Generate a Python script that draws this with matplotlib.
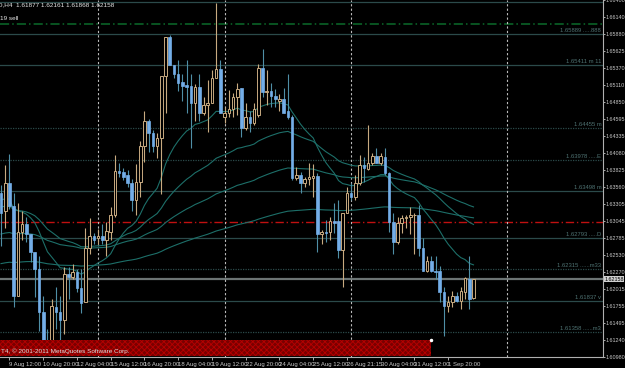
import matplotlib
matplotlib.use("Agg")
import matplotlib.pyplot as plt
import matplotlib.transforms as mtransforms
from matplotlib.patches import Rectangle

# GBPUSD H4 candles
opens = [
    1.6347, 1.6319, 1.6362, 1.6328, 1.6190, 1.6288, 1.6300, 1.6284, 1.6257, 1.6231,
    1.6166, 1.6124, 1.6111, 1.6174, 1.6166, 1.6154, 1.6224, 1.6219, 1.6227, 1.6202,
    1.6181, 1.6263, 1.6281, 1.6278, 1.6281, 1.6276, 1.6288, 1.6313, 1.6380, 1.6379,
    1.6374, 1.6362, 1.6337, 1.6364, 1.6418, 1.6457, 1.6438, 1.6418, 1.6430, 1.6525,
    1.6584, 1.6542, 1.6527, 1.6516, 1.6511, 1.6510, 1.6483, 1.6508, 1.6469, 1.6480,
    1.6483, 1.6522, 1.6536, 1.6462, 1.6468, 1.6474, 1.6492, 1.6507, 1.6445, 1.6462,
    1.6453, 1.6465, 1.6537, 1.6501, 1.6502, 1.6495, 1.6487, 1.6490, 1.6471, 1.6463,
    1.6370, 1.6374, 1.6362, 1.6368, 1.6370, 1.6373, 1.6284, 1.6288, 1.6288, 1.6305,
    1.6305, 1.6261, 1.6317, 1.6347, 1.6341, 1.6362, 1.6389, 1.6383, 1.6392, 1.6403,
    1.6392, 1.6401, 1.6377, 1.6303, 1.6273, 1.6302, 1.6309, 1.6311, 1.6313, 1.6313,
    1.6264, 1.6228, 1.6243, 1.6228, 1.6228, 1.6196, 1.6175, 1.6181, 1.6190, 1.6183,
    1.6196, 1.6216, 1.61877]
highs = [
    1.6359, 1.6389, 1.6406, 1.6347, 1.6332, 1.6319, 1.6311, 1.6284, 1.6258, 1.6251,
    1.6190, 1.6141, 1.6186, 1.6205, 1.6190, 1.6234, 1.6234, 1.6239, 1.6231, 1.6231,
    1.6294, 1.6309, 1.6287, 1.6293, 1.6300, 1.6303, 1.6326, 1.6404, 1.6392, 1.6385,
    1.6382, 1.6368, 1.6391, 1.6426, 1.6471, 1.6460, 1.6442, 1.6438, 1.6525, 1.6584,
    1.6587, 1.6542, 1.6549, 1.6528, 1.6549, 1.6528, 1.6513, 1.6528, 1.6492, 1.6519,
    1.6533, 1.6635, 1.6549, 1.6478, 1.6504, 1.6499, 1.6514, 1.6507, 1.6484, 1.6472,
    1.6484, 1.6543, 1.6566, 1.6533, 1.6514, 1.6505, 1.6498, 1.6507, 1.6528, 1.6465,
    1.6386, 1.6379, 1.6371, 1.6392, 1.6391, 1.6377, 1.6291, 1.6306, 1.6311, 1.6332,
    1.6337, 1.6317, 1.6356, 1.6362, 1.6374, 1.6404, 1.6401, 1.6450, 1.6407, 1.6415,
    1.6407, 1.6415, 1.6379, 1.6317, 1.6311, 1.6314, 1.6314, 1.6326, 1.6317, 1.6329,
    1.6279, 1.6251, 1.6251, 1.6251, 1.6236, 1.6205, 1.6190, 1.6198, 1.6196, 1.6204,
    1.6219, 1.6251, 1.62161]
lows = [
    1.6267, 1.6294, 1.6322, 1.6174, 1.6190, 1.6276, 1.6272, 1.6242, 1.6189, 1.6138,
    1.6118, 1.6108, 1.6108, 1.6141, 1.6118, 1.6133, 1.6186, 1.6216, 1.6196, 1.6165,
    1.6181, 1.6254, 1.6269, 1.6269, 1.6269, 1.6252, 1.6276, 1.6311, 1.6371, 1.6367,
    1.6356, 1.6319, 1.6314, 1.6341, 1.6394, 1.6409, 1.6409, 1.6400, 1.6346, 1.6468,
    1.6542, 1.6522, 1.6502, 1.6487, 1.6468, 1.6416, 1.6457, 1.6457, 1.6465, 1.6439,
    1.6483, 1.6522, 1.6469, 1.6453, 1.6462, 1.6462, 1.6465, 1.6432, 1.6442, 1.6439,
    1.6450, 1.6462, 1.6492, 1.6480, 1.6477, 1.6477, 1.6472, 1.6468, 1.6460, 1.6367,
    1.6367, 1.6347, 1.6356, 1.6359, 1.6341, 1.6258, 1.6269, 1.6273, 1.6276, 1.6287,
    1.6249, 1.6205, 1.6317, 1.6337, 1.6337, 1.6359, 1.6364, 1.6382, 1.6389, 1.6392,
    1.6389, 1.6374, 1.6288, 1.6254, 1.6269, 1.6287, 1.6294, 1.6284, 1.6254, 1.6251,
    1.6228, 1.6227, 1.6227, 1.6216, 1.6181, 1.6130, 1.6166, 1.6174, 1.6181, 1.6171,
    1.6186, 1.6171, 1.61868]
closes = [
    1.6317, 1.6362, 1.6328, 1.6190, 1.6288, 1.6300, 1.6284, 1.6257, 1.6231, 1.6166,
    1.6124, 1.6111, 1.6175, 1.6166, 1.6154, 1.6224, 1.6219, 1.6227, 1.6202, 1.6180,
    1.6263, 1.6281, 1.6275, 1.6281, 1.6276, 1.6290, 1.6314, 1.6380, 1.6377, 1.6371,
    1.6362, 1.6337, 1.6364, 1.6418, 1.6457, 1.6438, 1.6418, 1.6430, 1.6525, 1.6584,
    1.6542, 1.6527, 1.6514, 1.6510, 1.6508, 1.6483, 1.6508, 1.6469, 1.6480, 1.6483,
    1.6522, 1.6536, 1.6469, 1.6469, 1.6474, 1.6492, 1.6505, 1.6445, 1.6462, 1.6453,
    1.6475, 1.6537, 1.6501, 1.6502, 1.6495, 1.6489, 1.6490, 1.6469, 1.6463, 1.6370,
    1.6374, 1.6362, 1.6368, 1.6371, 1.6373, 1.6284, 1.6288, 1.6287, 1.6305, 1.6302,
    1.6261, 1.6317, 1.6347, 1.6341, 1.6362, 1.6389, 1.6385, 1.6392, 1.6403, 1.6392,
    1.6403, 1.6377, 1.6303, 1.6273, 1.6302, 1.6309, 1.6311, 1.6314, 1.6314, 1.6264,
    1.6228, 1.6243, 1.6228, 1.6227, 1.6196, 1.6175, 1.6181, 1.6190, 1.6183, 1.6198,
    1.6218, 1.6186, 1.62158]

# moving averages: period and starting value at the first visible bar
ma_periods = [20, 50, 100, 200]
ma_seeds = [1.6338, 1.6326, 1.6284, 1.6239]

# horizontal levels with their labels
levels = [1.66368, 1.65889, 1.65411, 1.64455, 1.63978, 1.63498, 1.62793, 1.62315, 1.61837, 1.61358]
level_labels = ["1.66368 m 3", "1.65889 .....888", "1.65411 m 11", "1.64455 m", "1.63978 .....E",
                "1.63498 m", "1.62793 .....D", "1.62315 ......m33", "1.61837 v", "1.61358 ......m3"]
level_dotted = [False, False, False, True, True, False, False, True, False, True]
sell_level = 1.66033
red_level = 1.63034
last_price = 1.62158

price_ticks = [1.66400, 1.66140, 1.65880, 1.65625, 1.65370, 1.65110, 1.64850, 1.64595, 1.64335,
               1.64080, 1.63825, 1.63560, 1.63305, 1.63045, 1.62785, 1.62530, 1.62270, 1.62015,
               1.61755, 1.61495, 1.61240, 1.60980]
date_ticks = [2, 10, 18, 26, 34, 42, 50, 58, 66, 74, 82, 90, 98, 106]
date_labels = ["9 Aug 12:00", "10 Aug 20:00", "12 Aug 04:00", "15 Aug 12:00", "16 Aug 20:00",
               "18 Aug 04:00", "19 Aug 12:00", "22 Aug 20:00", "24 Aug 04:00", "25 Aug 12:00",
               "26 Aug 21:15", "30 Aug 04:00", "31 Aug 12:00", "1 Sep 20:00"]
separators = [23, 53, 83, 120]

UP = "#c8aa80"
DOWN_FILL = "#74aee8"
DOWN_WICK = "#4f8fa6"
GRID_TXT = "#c8c8c8"
FONT = ["Liberation Sans Narrow", "Liberation Sans", "DejaVu Sans"]

plt.rcParams["font.family"] = FONT
plt.rcParams["hatch.linewidth"] = 0.6
fig = plt.figure(figsize=(6.25, 3.68), dpi=100, facecolor="black")
ax = fig.add_axes([0, 11 / 368, 603 / 625, 357 / 368])
ax.set_facecolor("black")
ax.set_xlim(-0.24, 142.7)
ax.set_ylim(1.6100, 1.6638)
ytrans = mtransforms.blended_transform_factory(ax.transAxes, ax.transData)

# levels
for lv, lab, dot in zip(levels, level_labels, level_dotted):
    ax.axhline(lv, color="#2b4a4a", lw=0.9, ls=(0, (1, 1)) if dot else "-", zorder=1)
    ax.text(0.997, lv + 0.00010, lab, transform=ytrans,
            ha="right", va="bottom", fontsize=4.2, color="#4f7373", zorder=1)
ax.axhline(sell_level, color="#0b6a2a", lw=1.1, ls=(0, (6, 2, 1, 2)), zorder=1)
ax.axhline(red_level, color="#c01010", lw=1.0, ls=(0, (6, 2, 1, 2)), zorder=1)
ax.axhline(last_price, color="#6c7474", lw=1.6, zorder=1)

for s in separators:
    ax.axvline(s, color="#bbbbbb", lw=0.8, ls=(0, (2, 2)), zorder=2)

# moving averages
xs = list(range(len(closes)))
for period, seed in zip(ma_periods, ma_seeds):
    a = 2 / (period + 1)
    e = seed
    vals = []
    for c in closes:
        e = e + a * (c - e)
        vals.append(e)
    ax.plot(xs, vals, color="#1d6f69", lw=0.8, zorder=3)

# candles
for i in xs:
    o, h, l, c = opens[i], highs[i], lows[i], closes[i]
    up = c >= o
    ax.vlines(i, l, h, color=UP if up else DOWN_WICK, lw=0.8, zorder=4)
    body = max(abs(c - o), 0.00006)
    if up:
        ax.bar(i, body, bottom=min(o, c), width=0.62, facecolor="black", edgecolor=UP, lw=0.7, zorder=5)
    else:
        ax.bar(i, body, bottom=min(o, c), width=0.62, facecolor=DOWN_FILL, edgecolor=DOWN_FILL, lw=0.5, zorder=5)

# copyright strip
ax.add_patch(Rectangle((-1, 1.6100), 103, 1.6124 - 1.6100, facecolor="#7a0000", edgecolor="#b80000",
                       hatch="xxxxxx", lw=0, zorder=6))
ax.plot([102], [1.6124], "o", ms=1.5, color="white", zorder=7)
ax.text(0.002, 1.6103, "T4, \u00a9 2001-2011 MetaQuotes Software Corp.", transform=ytrans,
        fontsize=4.6, color="#e0e0e0", va="bottom", ha="left", zorder=8)

# header texts
fig.text(-0.004, 1 - 5 / 368, "D,H4  1.61877 1.62161 1.61868 1.62158", fontsize=4.6, color="#e6e6e6", va="center", ha="left")
fig.text(0.0, 1 - 19 / 368, "19 sell", fontsize=4.6, color="#e6e6e6", va="center", ha="left")

# axes
for sp in ["left", "top"]:
    ax.spines[sp].set_visible(False)
for sp in ["right", "bottom"]:
    ax.spines[sp].set_color("#b0b0b0")
    ax.spines[sp].set_linewidth(0.8)
ax.yaxis.tick_right()
ax.set_yticks(price_ticks)
ax.set_yticklabels(["%.5f" % p for p in price_ticks])
ax.set_xticks(date_ticks)
ax.set_xticklabels(date_labels)
ax.tick_params(axis="y", colors=GRID_TXT, labelsize=3.9, length=1.5, width=0.6, pad=0.5)
ax.tick_params(axis="x", colors=GRID_TXT, labelsize=4.3, length=2.5, width=0.6, pad=0.8)
for t in ax.get_xticklabels():
    t.set_ha("left")

ax.text(1.002, last_price, "1.62158", transform=ytrans,
        fontsize=3.9, color="black", va="center", ha="left",
        bbox=dict(facecolor="#d0d0d0", edgecolor="none", pad=0.3), zorder=9, clip_on=False)

fig.savefig("out.png", dpi=100, facecolor="black")
